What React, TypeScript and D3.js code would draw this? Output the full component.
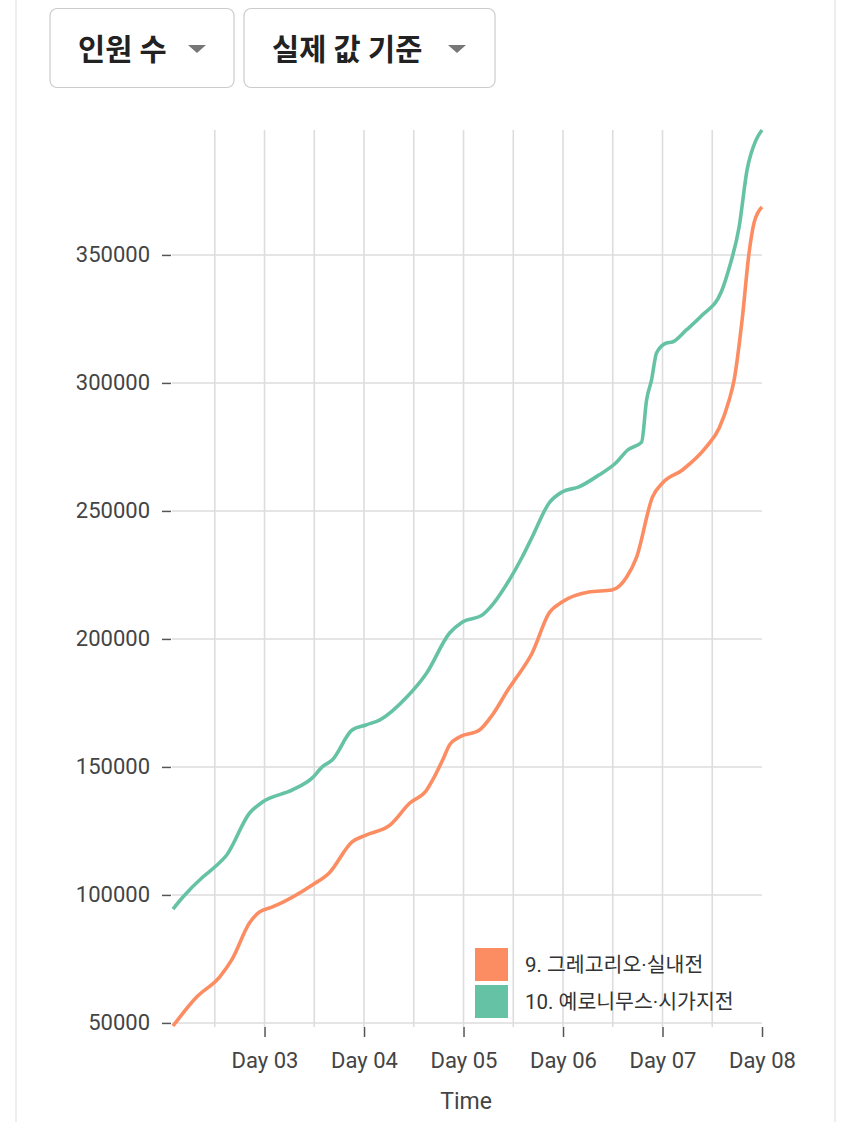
import React, { useEffect, useRef } from 'react';
import * as d3 from 'd3';

// time is in days (Day 03 = 3.0)
const orangeDays = [2.08, 2.32, 2.55, 2.67, 2.85, 2.95, 3.08, 3.48, 3.65, 3.88, 4.02, 4.26, 4.46, 4.63, 4.69, 4.79, 4.86, 4.96, 5.16, 5.29, 5.46, 5.53, 5.69, 5.86, 5.99, 6.26, 6.49, 6.64, 6.74, 6.9, 7.0, 7.2, 7.44, 7.57, 7.67, 7.72, 7.8, 7.87, 7.92, 8.0];
const orangeValues = [48800, 60200, 68000, 74600, 89100, 93400, 95300, 103900, 108600, 120700, 123400, 127300, 135900, 141000, 144900, 152700, 158600, 161700, 164400, 170300, 180900, 184800, 194500, 210100, 214400, 218300, 219100, 224200, 232000, 255500, 260900, 266000, 275000, 282400, 293300, 301200, 324600, 350800, 362500, 368700];

const greenDays = [2.08, 2.18, 2.38, 2.5, 2.62, 2.85, 2.98, 3.28, 3.48, 3.58, 3.68, 3.88, 4.02, 4.16, 4.43, 4.63, 4.86, 4.99, 5.19, 5.29, 5.46, 5.59, 5.69, 5.86, 5.99, 6.16, 6.36, 6.53, 6.65, 6.79, 6.84, 6.89, 6.94, 7.04, 7.1, 7.24, 7.4, 7.59, 7.67, 7.77, 7.85, 7.94, 8.0];
const greenValues = [94500, 99200, 107000, 110900, 115600, 132000, 136300, 141000, 145700, 150000, 152700, 164400, 166400, 168400, 177300, 186700, 202300, 206600, 209400, 213300, 223000, 232000, 239800, 253100, 257400, 259400, 264000, 268700, 273800, 276900, 293300, 301200, 311700, 315600, 316000, 320700, 326500, 335500, 344900, 360900, 383200, 394900, 398800];

const dayTicks = [3, 4, 5, 6, 7, 8];
const dayLabels = ['Day 03', 'Day 04', 'Day 05', 'Day 06', 'Day 07', 'Day 08'];
const halfDayGrid = [2.5, 3, 3.5, 4, 4.5, 5, 5.5, 6, 6.5, 7, 7.5];
const yTicks = [50000, 100000, 150000, 200000, 250000, 300000, 350000];

const seriesNames = ['9. 그레고리오·실내전', '10. 예로니무스·시가지전'];
const seriesColors = ['#fc8d62', '#66c2a5'];
const buttonLabels = ['인원 수', '실제 값 기준'];

const FONT = "Roboto, 'Noto Sans CJK KR', sans-serif";

const App = () => {
  const rootRef = useRef<SVGSVGElement>(null);

  useEffect(() => {
    const svg = d3.select(rootRef.current);
    svg.selectAll('*').remove();

    const left = 173;
    const right = 762;
    const top = 130;
    const bottom = 1026;

    const x = d3.scaleLinear().domain([2.08, 8]).range([left, right]);
    const y = d3.scaleLinear().domain([48800, 398800]).range([bottom, top]);

    // card edges
    svg.append('line').attr('x1', 16).attr('x2', 16).attr('y1', 0).attr('y2', 1122).attr('stroke', '#eeeeee').attr('stroke-width', 2);
    svg.append('line').attr('x1', 835).attr('x2', 835).attr('y1', 0).attr('y2', 1122).attr('stroke', '#eeeeee').attr('stroke-width', 2);

    // dropdown buttons
    const buttons = [
      { x: 50, w: 184, arrow: 197 },
      { x: 244, w: 251, arrow: 457 }
    ];
    buttons.forEach((b, i) => {
      svg.append('rect')
        .attr('x', b.x).attr('y', 8.5).attr('width', b.w).attr('height', 79)
        .attr('rx', 7).attr('fill', '#fff').attr('stroke', '#cccccc').attr('stroke-width', 1.2);
      svg.append('text')
        .attr('x', b.x + 28).attr('y', 60)
        .attr('font-family', FONT).attr('font-size', 29.5).attr('font-weight', 'bold').attr('fill', '#222')
        .text(buttonLabels[i]);
      svg.append('path')
        .attr('d', `M${b.arrow - 9},45 L${b.arrow + 9},45 L${b.arrow},53 Z`)
        .attr('fill', '#777');
    });

    // grid
    const grid = svg.append('g').attr('stroke', '#dddddd').attr('stroke-width', 1.6);
    grid.selectAll('.hg').data(yTicks).enter().append('line')
      .attr('x1', left - 1).attr('x2', right)
      .attr('y1', d => y(d)).attr('y2', d => y(d));
    grid.selectAll('.vg').data(halfDayGrid).enter().append('line')
      .attr('x1', d => x(d)).attr('x2', d => x(d))
      .attr('y1', top).attr('y2', bottom + 1);

    // axes
    const yAxis = svg.append('g')
      .attr('transform', `translate(${left - 2},0)`)
      .call(d3.axisLeft(y).tickValues(yTicks).tickSize(9).tickPadding(12).tickFormat(d => String(d)));
    const xAxis = svg.append('g')
      .attr('transform', `translate(0,${bottom + 1})`)
      .call(d3.axisBottom(x).tickValues(dayTicks).tickSize(10).tickPadding(15).tickFormat((_, i) => dayLabels[i]));
    [yAxis, xAxis].forEach(ax => {
      ax.select('.domain').remove();
      ax.selectAll('line').attr('stroke', '#555').attr('stroke-width', 1.5);
      ax.selectAll('text').attr('font-family', FONT).attr('font-size', 22).attr('fill', '#444');
    });

    svg.append('text')
      .attr('x', 466).attr('y', 1109).attr('text-anchor', 'middle')
      .attr('font-family', FONT).attr('font-size', 23).attr('fill', '#444')
      .text('Time');

    // lines
    const line = d3.line<[number, number]>()
      .x(d => x(d[0]))
      .y(d => y(d[1]))
      .curve(d3.curveMonotoneX);

    const orange: [number, number][] = orangeDays.map((d, i) => [d, orangeValues[i]]);
    const green: [number, number][] = greenDays.map((d, i) => [d, greenValues[i]]);

    [orange, green].forEach((data, i) => {
      svg.append('path')
        .attr('d', line(data))
        .attr('fill', 'none')
        .attr('stroke', seriesColors[i])
        .attr('stroke-width', 3.6)
        .attr('stroke-linejoin', 'round');
    });

    // legend
    const legend = svg.append('g').attr('transform', 'translate(475,948)');
    seriesNames.forEach((name, i) => {
      legend.append('rect')
        .attr('x', 0).attr('y', i * 37).attr('width', 33).attr('height', 33)
        .attr('fill', seriesColors[i]);
      legend.append('text')
        .attr('x', 50).attr('y', i * 37 + 24)
        .attr('font-family', FONT).attr('font-size', 20.5).attr('fill', '#333')
        .text(name);
    });
  }, []);

  return (
    <div style={{ position: 'absolute', left: 0, top: 0, background: '#fff' }}>
      <svg ref={rootRef} width={850} height={1122} style={{ display: 'block' }}></svg>
    </div>
  );
};

export default App;
